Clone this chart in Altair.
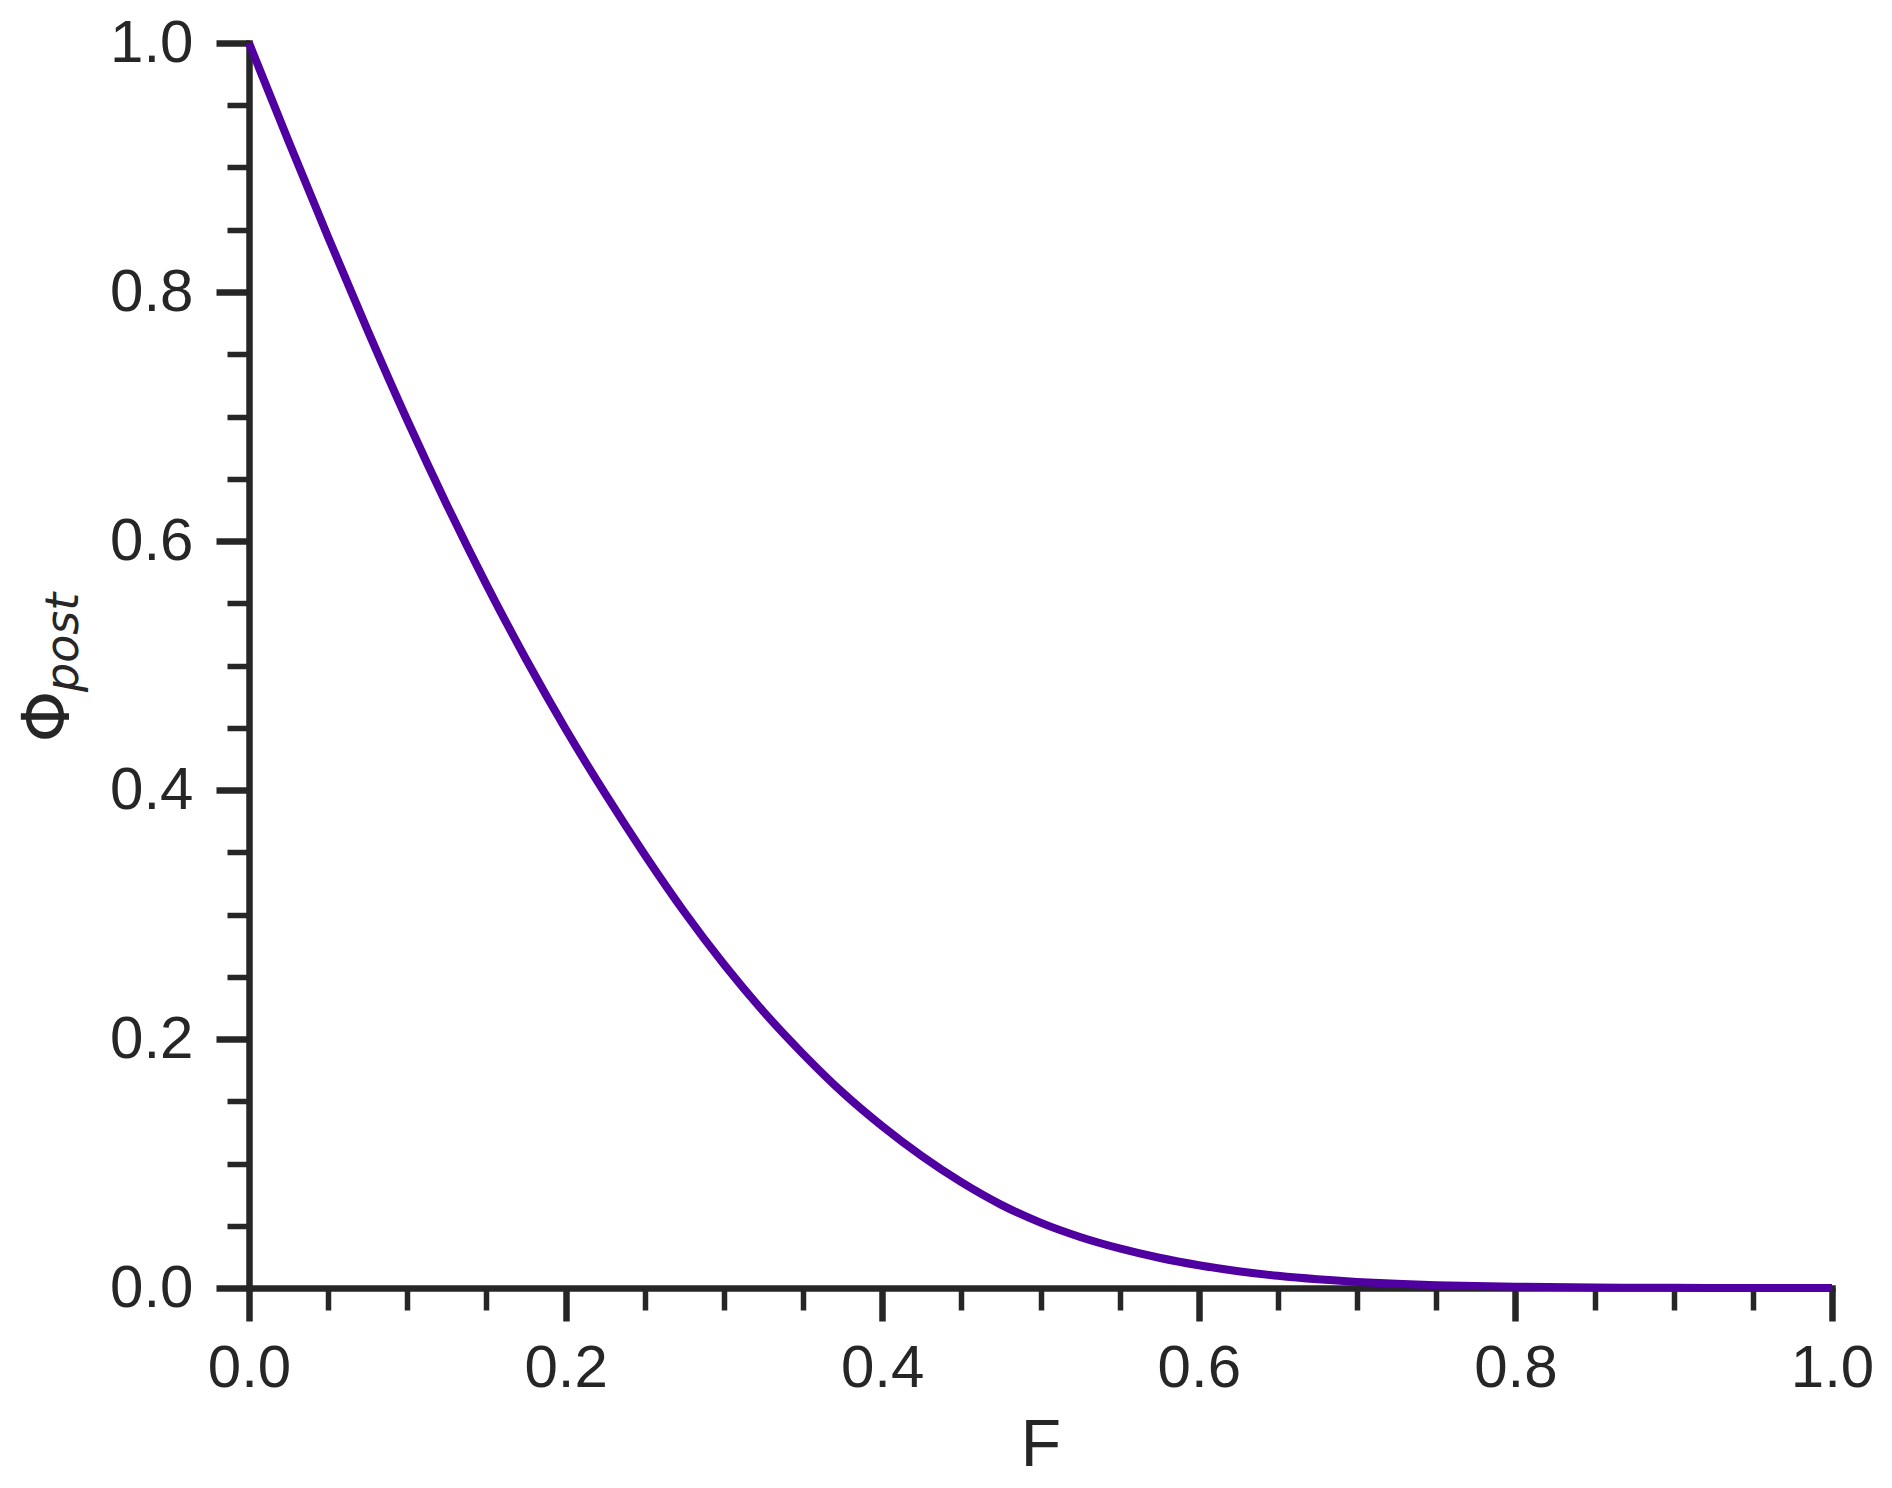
import altair as alt
import pandas as pd

# Curve
F = [0.000, 0.025, 0.050, 0.075, 0.100, 0.125, 0.150, 0.175, 0.200, 0.225,
     0.250, 0.275, 0.300, 0.325, 0.350, 0.375, 0.400, 0.425, 0.450, 0.475,
     0.500, 0.525, 0.550, 0.575, 0.600, 0.625, 0.650, 0.675, 0.700, 0.725,
     0.750, 0.800, 0.850, 0.900, 0.950, 1.000]
PHI_POST = [1.000, 0.921, 0.844, 0.769, 0.697, 0.629, 0.565, 0.505, 0.449, 0.397,
            0.348, 0.302, 0.260, 0.222, 0.188, 0.157, 0.130, 0.106, 0.085, 0.067,
            0.0525, 0.041, 0.0318, 0.0243, 0.0183, 0.0135, 0.0098, 0.0070, 0.0049, 0.0034,
            0.0023, 0.0010, 0.0004, 0.00015, 0.00005, 0.00001]

X_MAJOR = [0.0, 0.2, 0.4, 0.6, 0.8, 1.0]
X_MINOR = [0.05, 0.10, 0.15, 0.25, 0.30, 0.35, 0.45, 0.50, 0.55, 0.65, 0.70, 0.75, 0.85, 0.90, 0.95]
Y_MAJOR = [0.0, 0.2, 0.4, 0.6, 0.8, 1.0]
Y_MINOR = [0.05, 0.10, 0.15, 0.25, 0.30, 0.35, 0.45, 0.50, 0.55, 0.65, 0.70, 0.75, 0.85, 0.90, 0.95]

X_TITLE = "F"
Y_TITLE = "Φ"
Y_SUB = ["post"]

df = pd.DataFrame({"F": F, "phi": PHI_POST})

INK = "#262626"
LINE = "#5000a0"
W, H = 1583, 1245

xs = alt.Scale(domain=[0, 1], nice=False, zero=False)
ys = alt.Scale(domain=[0, 1], nice=False, zero=False)

main = alt.Chart(df).mark_line(color=LINE, strokeWidth=8, interpolate="monotone").encode(
    x=alt.X("F:Q", scale=xs, axis=alt.Axis(
        orient="bottom", values=X_MAJOR, format=".1f",
        tickSize=33, tickWidth=6.5, domainWidth=6.5,
        labelFontSize=60, labelFont="Liberation Sans", labelPadding=18,
        labelFlush=False, labelOverlap=False,
        title=X_TITLE, titleFont="Liberation Sans", titleFontSize=66,
        titleFontWeight="normal", titleX=W / 2, titleY=177,
        titleAlign="center", titleBaseline="alphabetic")),
    y=alt.Y("phi:Q", scale=ys, axis=alt.Axis(
        orient="left", values=Y_MAJOR, format=".1f",
        tickSize=33, tickWidth=6.5, domainWidth=6.5,
        labelFontSize=60, labelFont="Liberation Sans", labelPadding=23,
        labelFlush=False, labelOverlap=False,
        title=Y_TITLE, titleFont="DejaVu Sans", titleFontSize=66,
        titleFontWeight="normal", titleAngle=270, titleX=-181, titleY=699,
        titleAlign="left", titleBaseline="alphabetic")),
)

minor = alt.Chart(df).mark_line(strokeOpacity=0).encode(
    x=alt.X("F:Q", scale=xs, axis=alt.Axis(
        orient="bottom", values=X_MINOR, tickSize=22, tickWidth=5.5,
        labels=False, domain=False, title="")),
    y=alt.Y("phi:Q", scale=ys, axis=alt.Axis(
        orient="left", values=Y_MINOR, tickSize=22, tickWidth=5.5,
        labels=False, domain=False, title="")),
)

sub = alt.Chart(pd.DataFrame({"t": Y_SUB})).mark_text(
    angle=270, align="left", baseline="alphabetic", font="DejaVu Sans",
    fontStyle="italic", fontSize=46, color=INK,
).encode(x=alt.value(-171), y=alt.value(649), text="t:N")

chart = alt.layer(main, minor, sub).resolve_axis(
    x="independent", y="independent"
).properties(
    width=W, height=H,
    autosize=alt.AutoSizeParams(type="none"),
    padding={"left": 241, "top": 35, "right": 50, "bottom": 190},
).configure_view(stroke=None).configure_axis(
    grid=False, domainColor=INK, tickColor=INK, labelColor=INK, titleColor=INK,
    domainCap="square",
)

chart.save("out.html", embed_options={"renderer": "svg", "actions": False})
